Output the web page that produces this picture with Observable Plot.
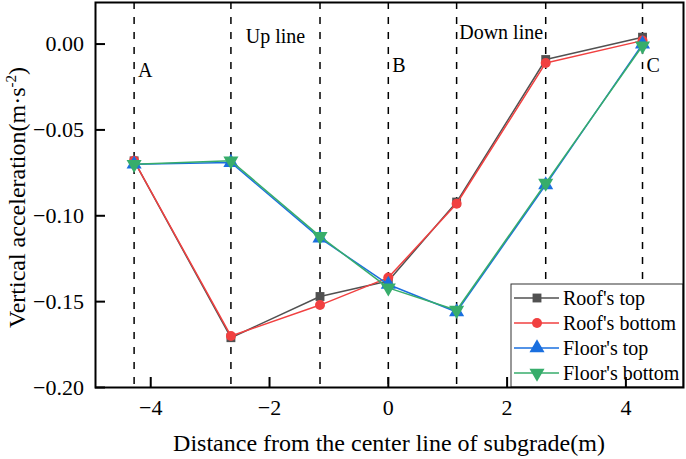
<!DOCTYPE html>
<html><head><meta charset="utf-8">
<script src="https://cdn.jsdelivr.net/npm/d3@7"></script>
<script src="https://cdn.jsdelivr.net/npm/@observablehq/plot@0.6"></script>
<style>html,body{margin:0;padding:0;background:#fff} svg{display:block}</style>
</head><body><div id="chart"></div>
<script>
// ---- data ----
const positions = [-4.28, -2.65, -1.15, 0, 1.15, 2.65, 4.28];
const roofTop      = [-0.068, -0.171, -0.147, -0.138, -0.092, -0.009, 0.004];
const roofBottom   = [-0.068, -0.170, -0.152, -0.136, -0.093, -0.011, 0.002];
const floorTop     = [-0.070, -0.069, -0.113, -0.140, -0.156, -0.082, 0.000];
const floorBottom  = [-0.070, -0.068, -0.112, -0.142, -0.155, -0.081, -0.001];
const seriesNames  = ["Roof's top", "Roof's bottom", "Floor's top", "Floor's bottom"];
const seriesValues = [roofTop, roofBottom, floorTop, floorBottom];
const seriesColors = ["#515151", "#F14040", "#1A6FDF", "#37AD6B"];
const seriesSymbols = ["square", "circle", "triangle", "triangle"];
const seriesRotate = [0, 0, 0, 180];
const seriesR = [5, 5, 5.6, 5.6];
const xTicks = [-4, -2, 0, 2, 4];
const yTicks = [0, -0.05, -0.10, -0.15, -0.20];
const pointLabels = ["A", "B", "C"];
const pointLabelX = [-4.28, 0, 4.28];
const pointLabelY = [-0.0194, -0.0165, -0.0165];
const lineLabels = ["Up line", "Down line"];
const lineLabelX = [-1.9, 1.9];
const lineLabelY = [0.0009, 0.0029];
const xTitle = "Distance from the center line of subgrade(m)";
const yTitleMain = "Vertical acceleration(m·s";
const yTitleSup = "-2";
const yTitleEnd = ")";

// ---- layout ----
const W = 686, H = 459;
const mL = 95, mR = 3, mT = 2, mB = 72;
const plotW = W - mL - mR, plotH = H - mT - mB;
const FONT = "'Liberation Serif', 'Times New Roman', serif";

const table = [];
seriesValues.forEach((vals, s) => positions.forEach((x, j) => table.push({x, y: vals[j], s})));

const symArea = r => r * r * Math.PI;
const symMap = {square: d3.symbolSquare, circle: d3.symbolCircle, triangle: d3.symbolTriangle};

const seriesMarks = [];
seriesNames.forEach((name, s) => {
  const d = table.filter(t => t.s === s);
  seriesMarks.push(Plot.line(d, {x: "x", y: "y", stroke: seriesColors[s], strokeWidth: 1.5}));
  seriesMarks.push(Plot.dot(d, {x: "x", y: "y", symbol: seriesSymbols[s], r: seriesR[s], fill: seriesColors[s], stroke: "none", rotate: seriesRotate[s]}));
});

function legendMark() {
  const g = d3.create("svg:g");
  const x0 = 511, y0 = 284, x1 = W - mR, y1 = H - mB;
  g.append("rect").attr("x", x0).attr("y", y0).attr("width", x1 - x0).attr("height", y1 - y0)
    .attr("fill", "white").attr("stroke", "#333").attr("stroke-width", 1);
  seriesNames.forEach((name, s) => {
    const cy = 298 + s * 25;
    g.append("line").attr("x1", 514).attr("x2", 559).attr("y1", cy).attr("y2", cy)
      .attr("stroke", seriesColors[s]).attr("stroke-width", 1.5);
    g.append("path").attr("d", d3.symbol(symMap[seriesSymbols[s]], symArea(seriesR[s]))())
      .attr("transform", `translate(537,${cy}) rotate(${seriesRotate[s]})`)
      .attr("fill", seriesColors[s]);
    g.append("text").attr("x", 563).attr("y", cy).attr("dy", "0.35em").attr("text-anchor", "start")
      .attr("font-size", 20).attr("fill", "black").text(name);
  });
  return g.node();
}

function titlesMark() {
  const g = d3.create("svg:g").attr("fill", "black");
  g.append("text").attr("x", 389).attr("y", 451).attr("text-anchor", "middle")
    .attr("font-size", 24).text(xTitle);
  const t = g.append("text").attr("transform", "translate(25,197.5) rotate(-90)")
    .attr("text-anchor", "middle").attr("font-size", 24);
  t.append("tspan").text(yTitleMain);
  t.append("tspan").attr("font-size", 15).attr("dy", -9).text(yTitleSup);
  t.append("tspan").attr("dy", 9).text(yTitleEnd);
  return g.node();
}

const chart = Plot.plot({
  width: W, height: H,
  marginLeft: mL, marginRight: mR, marginTop: mT, marginBottom: mB,
  style: {fontSize: "22px", color: "black", background: "white"},
  x: {domain: [-4.93, 4.97]},
  y: {domain: [-0.2, 0.0242]},
  marks: [
    Plot.ruleX(positions, {stroke: "black", strokeWidth: 1.5, strokeDasharray: "7,8"}),
    Plot.text(pointLabels, {x: (d, i) => pointLabelX[i], y: (d, i) => pointLabelY[i], text: d => d,
      textAnchor: "start", dx: 4, lineAnchor: "bottom", fontSize: 20, fill: "black"}),
    Plot.text(lineLabels, {x: (d, i) => lineLabelX[i], y: (d, i) => lineLabelY[i], text: d => d,
      textAnchor: "middle", lineAnchor: "bottom", fontSize: 20, fill: "black"}),
    ...seriesMarks,
    legendMark,
    Plot.gridY(yTicks, {stroke: "black", strokeOpacity: 1, strokeWidth: 2, insetRight: plotW - 10}),
    Plot.gridX(xTicks, {stroke: "black", strokeOpacity: 1, strokeWidth: 2, insetTop: plotH - 10}),
    Plot.axisX({ticks: xTicks, tickSize: 0, tickPadding: 12, tickFormat: d3.format("d"), label: null, fontSize: 22}),
    Plot.axisY({ticks: yTicks, tickSize: 0, tickPadding: 11.5, tickFormat: d3.format(".2f"), label: null, fontSize: 22}),
    Plot.frame({stroke: "black", strokeWidth: 2}),
    titlesMark
  ]
});
d3.select(chart).selectAll("text").style("font-family", FONT);
document.getElementById("chart").appendChild(chart);
</script>
</body></html>
